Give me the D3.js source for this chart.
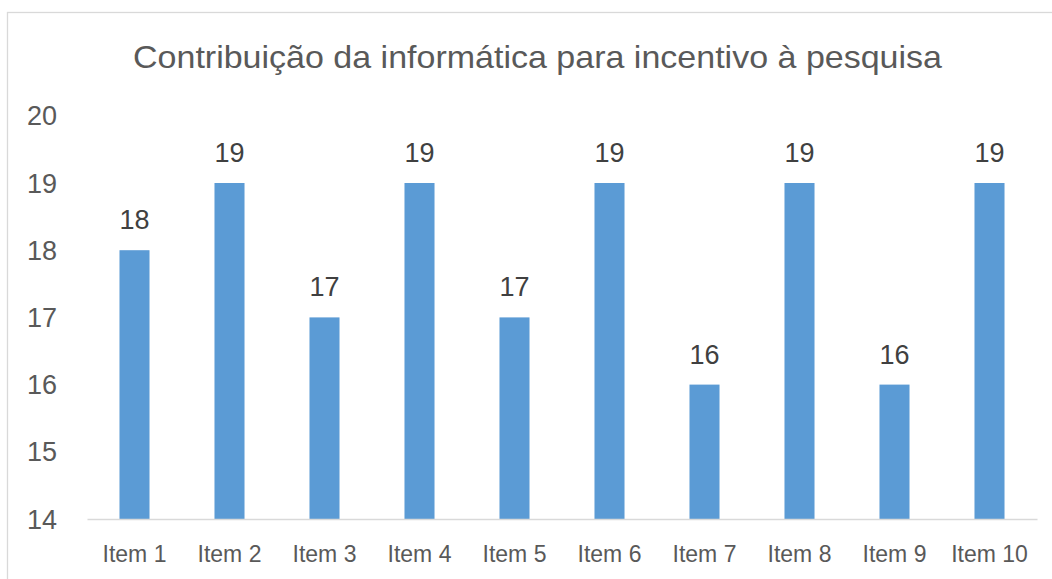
<!DOCTYPE html>
<html>
<head>
<meta charset="utf-8">
<script src="https://cdn.jsdelivr.net/npm/d3@7"></script>
<style>
  html, body { margin: 0; padding: 0; background: #fff; }
  svg { display: block; font-family: "Liberation Sans", Arial, sans-serif; }
</style>
</head>
<body>
<svg id="chart" width="1052" height="579"></svg>
<script>
const title = "Contribuição da informática para incentivo à pesquisa";
const categories = ["Item 1", "Item 2", "Item 3", "Item 4", "Item 5", "Item 6", "Item 7", "Item 8", "Item 9", "Item 10"];
const values = [18, 19, 17, 19, 17, 19, 16, 19, 16, 19];
const yTicks = [14, 15, 16, 17, 18, 19, 20];

const svg = d3.select("#chart");
const W = 1052, H = 579;

// chart border (cropped at right and bottom)
svg.append("rect")
  .attr("x", 7.5).attr("y", 12.5)
  .attr("width", W + 20).attr("height", H + 20)
  .attr("fill", "#fff").attr("stroke", "#d9d9d9").attr("stroke-width", 1.3);

const x = d3.scaleBand().domain(categories).range([87, 1037]).paddingInner(0.684).paddingOuter(0.342);
const y = d3.scaleLinear().domain([14, 20]).range([519, 115.8]);

// title
svg.append("text")
  .attr("x", 537.5).attr("y", 68)
  .attr("text-anchor", "middle")
  .attr("font-size", 32)
  .attr("textLength", 809)
  .attr("lengthAdjust", "spacingAndGlyphs")
  .attr("fill", "#595959")
  .text(title);

// y axis labels
const yAxis = d3.axisLeft(y).tickValues(yTicks).tickSize(0).tickPadding(0).tickFormat(d3.format("d"));
const gy = svg.append("g").attr("transform", "translate(57,0)").call(yAxis);
gy.select(".domain").remove();
gy.selectAll("text").attr("font-size", 27).attr("fill", "#595959")
  .attr("font-family", "Liberation Sans, Arial, sans-serif").attr("dy", "0.34em");

// bars
svg.append("g").selectAll("rect").data(values).join("rect")
  .attr("x", (d, i) => x(categories[i]))
  .attr("y", d => y(d))
  .attr("width", x.bandwidth())
  .attr("height", d => y(14) - y(d))
  .attr("fill", "#5b9bd5");

// x axis
const xAxis = d3.axisBottom(x).tickSize(0).tickPadding(0);
const gx = svg.append("g").attr("transform", "translate(0,519)").call(xAxis);
gx.select(".domain").attr("stroke", "#d9d9d9").attr("stroke-width", 1.5);
gx.selectAll("text").attr("font-size", 23).attr("fill", "#595959")
  .attr("font-family", "Liberation Sans, Arial, sans-serif").attr("dy", "0").attr("y", 43);

// data labels
svg.append("g").selectAll("text").data(values).join("text")
  .attr("x", (d, i) => x(categories[i]) + x.bandwidth() / 2)
  .attr("y", d => y(d) - 21)
  .attr("text-anchor", "middle")
  .attr("font-size", 27)
  .attr("fill", "#404040")
  .text(d => d);
</script>
</body>
</html>
